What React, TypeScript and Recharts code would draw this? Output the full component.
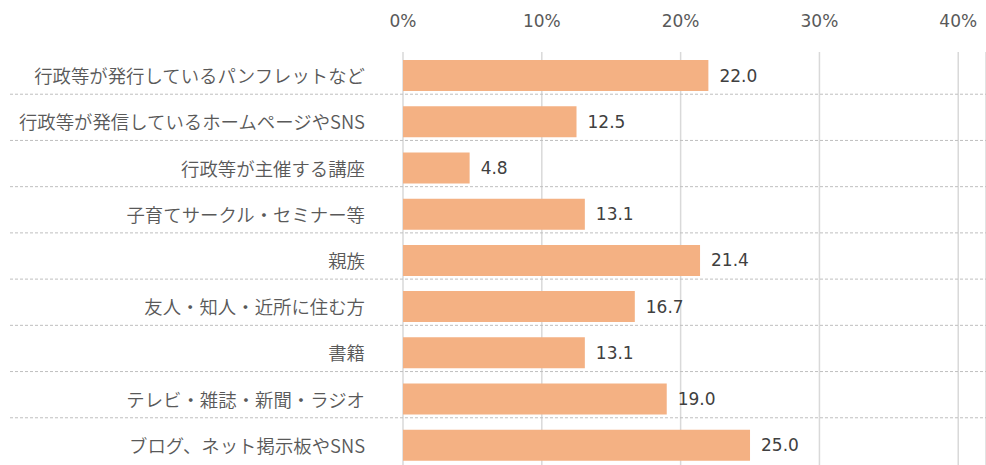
import React from 'react';
import { BarChart, Bar, XAxis, YAxis, CartesianGrid, LabelList } from 'recharts';

const categories = [
  '行政等が発行しているパンフレットなど',
  '行政等が発信しているホームページやSNS',
  '行政等が主催する講座',
  '子育てサークル・セミナー等',
  '親族',
  '友人・知人・近所に住む方',
  '書籍',
  'テレビ・雑誌・新聞・ラジオ',
  'ブログ、ネット掲示板やSNS',
];
const values = [22.0, 12.5, 4.8, 13.1, 21.4, 16.7, 13.1, 19.0, 25.0];
const xTicks = [0, 10, 20, 30, 40];

const data = categories.map((name, i) => ({ name, value: values[i] }));

const W = 986;
const H = 470;
const TOP = 52;
const BOTTOM_MARGIN = 2;
const BAND = (H - TOP - BOTTOM_MARGIN) / categories.length;
const NUM_FONT = '"DejaVu Sans", "Noto Sans CJK JP", sans-serif';
const CJK_FONT = '"Noto Sans CJK JP", "DejaVu Sans", sans-serif';

const CategoryTick = (props: any) => {
  const { x, y, payload, index } = props;
  const sepY = y - BAND / 2 - 4;
  return (
    <g>
      {index > 0 && (
        <line x1={10} x2={W} y1={sepY} y2={sepY} stroke="#BFBFBF" strokeWidth={1} strokeDasharray="3 2" />
      )}
      <text x={x} y={y} textAnchor="end" dominantBaseline="central" fontSize={18.4} fontWeight={350} fill="#595959" fontFamily={CJK_FONT}>
        {payload.value}
      </text>
    </g>
  );
};

export default function App() {
  return (
    <div style={{ position: 'absolute', left: 0, top: 0, width: W, height: 465, overflow: 'hidden', background: '#fff' }}>
      <BarChart
        width={W}
        height={H}
        data={data}
        layout="vertical"
        margin={{ top: 0, right: 0, bottom: BOTTOM_MARGIN, left: 0 }}
        barCategoryGap={0}
      >
        <CartesianGrid horizontal={false} vertical={true} stroke="#D9D9D9" strokeWidth={1.5} />
        <XAxis
          type="number"
          orientation="top"
          domain={[0, 42]}
          ticks={xTicks}
          tickFormatter={(v: number) => `${v}%`}
          axisLine={false}
          tickLine={false}
          tickSize={0}
          tickMargin={25}
          height={TOP}
          interval={0}
          tick={{ fontSize: 17, fill: '#595959', fontFamily: NUM_FONT }}
        />
        <YAxis
          type="category"
          dataKey="name"
          width={403}
          axisLine={false}
          tickLine={false}
          tickSize={0}
          tickMargin={38}
          interval={0}
          tick={<CategoryTick />}
        />
        <Bar dataKey="value" fill="#F4B183" barSize={31} isAnimationActive={false}>
          <LabelList
            dataKey="value"
            position="right"
            offset={11}
            formatter={(v: number) => v.toFixed(1)}
            style={{ fontSize: 17, fill: '#404040', fontFamily: NUM_FONT }}
          />
        </Bar>
      </BarChart>
    </div>
  );
}
